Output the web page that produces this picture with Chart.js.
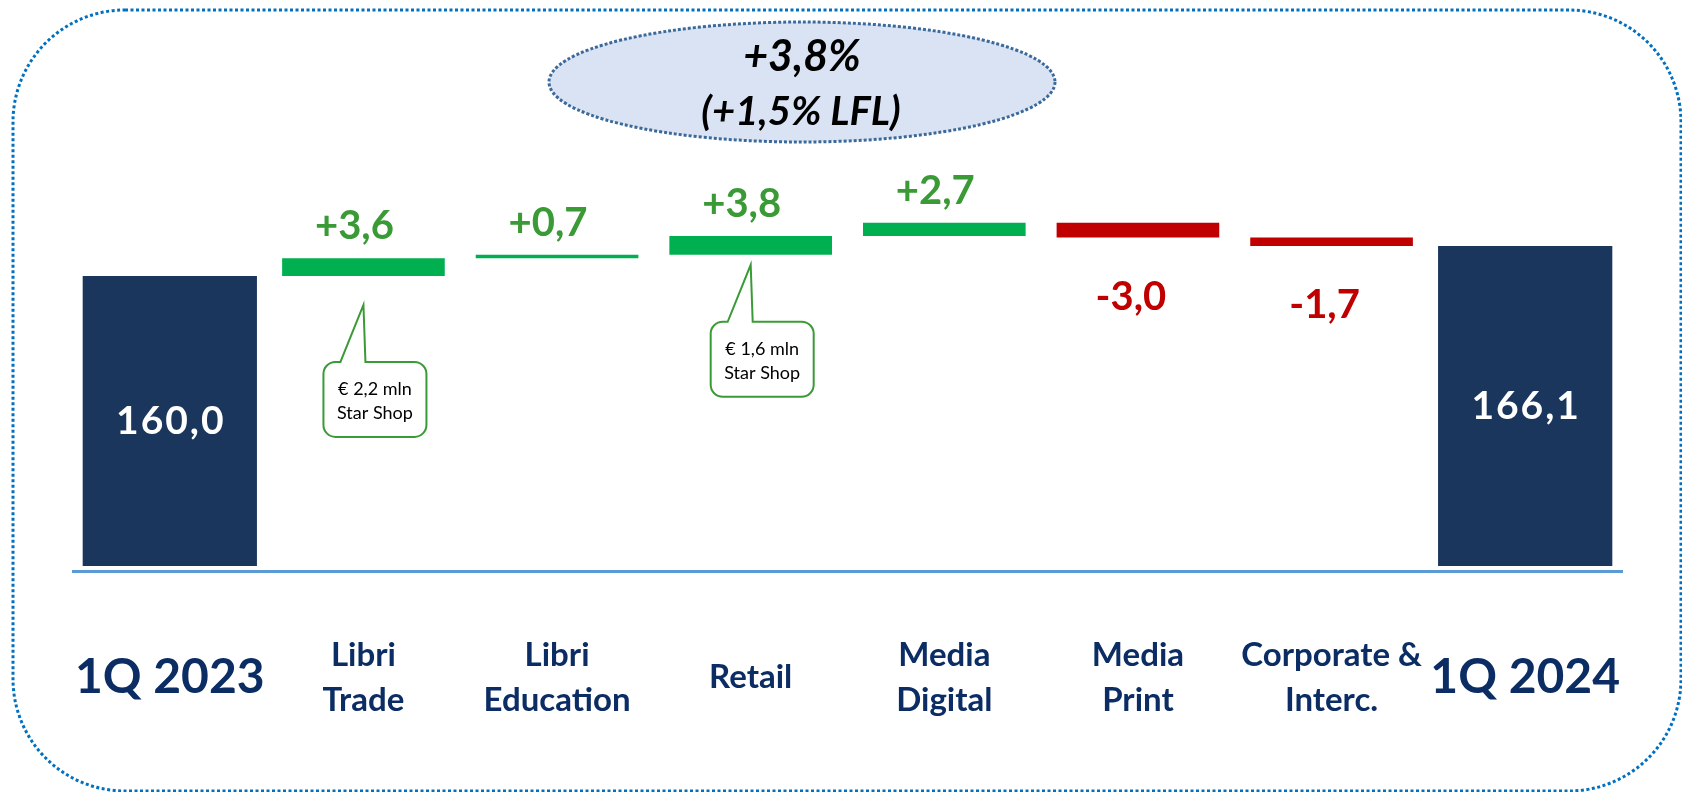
<!DOCTYPE html>
<html lang="it">
<head>
<meta charset="UTF-8">
<title>Ricavi 1Q 2023 - 1Q 2024</title>
<script src="https://cdn.jsdelivr.net/npm/chart.js"></script>
<style>
  html, body { margin: 0; padding: 0; background: #fff; }
  .box { position: relative; width: 1682px; height: 792px; }
</style>
</head>
<body>
<div class="box"><canvas id="ponte"></canvas></div>

<script>
  // valori (mln di euro)
  const categorie = [['1Q 2023'], ['Libri', 'Trade'], ['Libri', 'Education'], ['Retail'],
    ['Media', 'Digital'], ['Media', 'Print'], ['Corporate &', 'Interc.'], ['1Q 2024']];
  const totaleIniziale = 160.0;
  const variazioni = [3.6, 0.7, 3.8, 2.7, -3.0, -1.7];
  const totaleFinale = 166.1;
  const crescita = ['+3,8%', '(+1,5% LFL)'];
  const noteIndici = [1, 3];
  const noteTesti = [['€ 2,2 mln', 'Star Shop'], ['€ 1,6 mln', 'Star Shop']];

  const baseBarre = 101; // asse spezzato, le colonne partono da qui

  // colonne piene e barre flottanti del ponte
  const totali = categorie.map(() => null);
  totali[0] = [baseBarre, totaleIniziale];
  totali[categorie.length - 1] = [baseBarre, totaleFinale];

  const ponte = categorie.map(() => null);
  let cumulato = totaleIniziale;
  variazioni.forEach(function (v, i) {
    ponte[i + 1] = [cumulato, cumulato + v];
    cumulato += v;
  });

  function formato(v, segno) {
    const s = Math.abs(v).toFixed(1).replace('.', ',');
    if (!segno) return s;
    return (v >= 0 ? '+' : '-') + s;
  }

  const VERDE = '#00B050';
  const VERDE_TESTO = '#3A9A36';
  const ROSSO = '#C00000';
  const BLU_SCURO = '#1A365D';

  // cornice tratteggiata e ovale in alto
  const cornice = {
    id: 'cornice',
    beforeDraw(chart) {
      const ctx = chart.ctx;
      ctx.save();
      ctx.strokeStyle = '#0070C0';
      ctx.lineWidth = 3;
      ctx.setLineDash([3, 2.5]);
      ctx.beginPath();
      ctx.roundRect(13, 10, 1668, 781, 112);
      ctx.stroke();

      ctx.setLineDash([3, 2]);
      ctx.beginPath();
      ctx.ellipse(802, 82, 253, 60, 0, 0, Math.PI * 2);
      ctx.fillStyle = '#DAE3F3';
      ctx.fill();
      ctx.strokeStyle = '#3B6A9A';
      ctx.stroke();

      ctx.fillStyle = '#000';
      ctx.textAlign = 'center';
      ctx.textBaseline = 'middle';
      ctx.font = 'italic bold 43px Lato';
      ctx.fillText(crescita[0], 802, 57);
      ctx.font = 'italic bold 40px Lato';
      ctx.fillText(crescita[1], 801, 112);
      ctx.restore();
    }
  };

  // etichette dei valori e fumetti
  const etichette = {
    id: 'etichette',
    afterDatasetsDraw(chart) {
      const ctx = chart.ctx;
      ctx.save();
      ctx.textAlign = 'center';

      chart.getDatasetMeta(0).data.forEach(function (bar, i) {
        if (!totali[i]) return;
        ctx.font = 'bold 39px Lato';
        ctx.letterSpacing = '2px';
        ctx.fillStyle = '#fff';
        ctx.textBaseline = 'middle';
        ctx.fillText(formato(totali[i][1]), bar.x + 1, (bar.y + bar.base) / 2);
      });
      ctx.letterSpacing = '0px';

      const meta = chart.getDatasetMeta(1);
      meta.data.forEach(function (bar, i) {
        if (!ponte[i]) return;
        const v = ponte[i][1] - ponte[i][0];
        const alto = Math.min(bar.y, bar.base);
        const basso = Math.max(bar.y, bar.base);
        ctx.font = 'bold 40px Lato';
        ctx.textBaseline = 'alphabetic';
        if (v >= 0) {
          ctx.fillStyle = VERDE_TESTO;
          ctx.fillText(formato(v, true), bar.x - 9, alto - 19);
        } else {
          ctx.fillStyle = ROSSO;
          ctx.fillText(formato(v, true), bar.x - 7, basso + 72);
        }
      });

      // fumetti Star Shop
      const discesa = [29, 10];
      noteIndici.forEach(function (idx, k) {
        const bar = meta.data[idx];
        const basso = Math.max(bar.y, bar.base);
        const punta = { x: bar.x, y: basso + discesa[k] };
        const w = 103, h = 75, r = 12;
        const sx = bar.x - 40, sy = punta.y + 57;
        ctx.beginPath();
        ctx.moveTo(sx + r, sy);
        ctx.lineTo(sx + 17, sy);
        ctx.lineTo(punta.x, punta.y);
        ctx.lineTo(sx + 42, sy);
        ctx.lineTo(sx + w - r, sy);
        ctx.arcTo(sx + w, sy, sx + w, sy + r, r);
        ctx.lineTo(sx + w, sy + h - r);
        ctx.arcTo(sx + w, sy + h, sx + w - r, sy + h, r);
        ctx.lineTo(sx + r, sy + h);
        ctx.arcTo(sx, sy + h, sx, sy + h - r, r);
        ctx.lineTo(sx, sy + r);
        ctx.arcTo(sx, sy, sx + r, sy, r);
        ctx.closePath();
        ctx.fillStyle = '#fff';
        ctx.fill();
        ctx.strokeStyle = VERDE_TESTO;
        ctx.lineWidth = 2;
        ctx.stroke();

        ctx.fillStyle = '#000';
        ctx.font = '18px Lato';
        ctx.textBaseline = 'middle';
        ctx.fillText(noteTesti[k][0], sx + w / 2, sy + 27);
        ctx.fillText(noteTesti[k][1], sx + w / 2, sy + 51);
      });
      ctx.restore();
    }
  };

  new Chart(document.getElementById('ponte'), {
    type: 'bar',
    data: {
      labels: categorie,
      datasets: [{
        label: 'Totale',
        data: totali,
        backgroundColor: BLU_SCURO,
        barPercentage: 0.9,
        categoryPercentage: 1,
        grouped: false
      }, {
        label: 'Variazione',
        data: ponte,
        backgroundColor: function (c) {
          const r = c.raw;
          return r && r[1] < r[0] ? ROSSO : VERDE;
        },
        barPercentage: 0.84,
        categoryPercentage: 1,
        grouped: false
      }]
    },
    options: {
      responsive: true,
      maintainAspectRatio: false,
      animation: false,
      layout: { padding: { left: 73, right: 60, top: 30, bottom: 0 } },
      plugins: {
        legend: { display: false },
        tooltip: { enabled: false }
      },
      scales: {
        x: {
          grid: { display: false, drawTicks: false },
          border: { display: true, color: '#5B9BD5', width: 3 },
          ticks: {
            autoSkip: false,
            minRotation: 0,
            maxRotation: 0,
            padding: 84,
            crossAlign: 'center',
            color: '#0B2D64',
            font: function (c) {
              const ultimo = categorie.length - 1;
              if (c.index === 0 || c.index === ultimo) {
                return { family: 'Lato', size: 48, weight: 'bold', lineHeight: '45px' };
              }
              return { family: 'Lato', size: 33, weight: 'bold', lineHeight: '45px' };
            }
          },
          afterFit: function (scale) {
            scale.height = 221;
            scale.paddingLeft = 0;
            scale.paddingRight = 0;
          }
        },
        y: { display: false, min: 100, max: 210 }
      }
    },
    plugins: [cornice, etichette]
  });
</script>
</body>
</html>
